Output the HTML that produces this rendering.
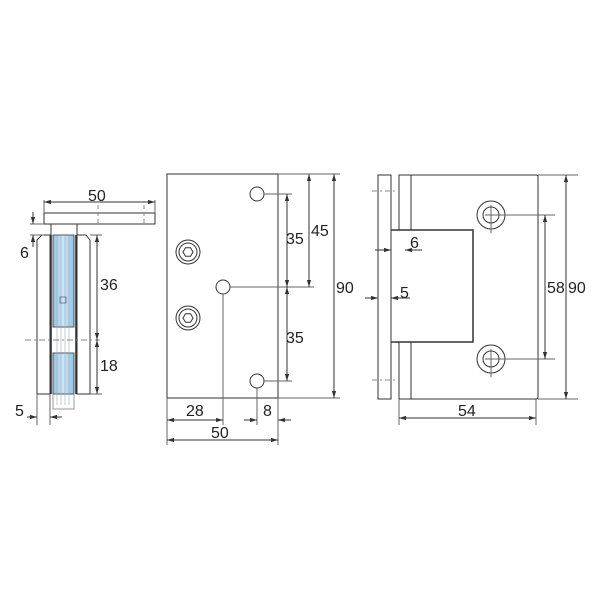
<!DOCTYPE html>
<html><head><meta charset="utf-8"><style>html,body{margin:0;padding:0;background:#fff}svg{display:block}text{font-family:"Liberation Sans",sans-serif;font-size:16px;fill:#222}</style></head>
<body>
<svg width="600" height="600" viewBox="0 0 600 600" xmlns="http://www.w3.org/2000/svg">
<defs>
<marker id="a" viewBox="0 0 10 10" refX="10" refY="5" markerWidth="7" markerHeight="7" orient="auto-start-reverse"><path d="M0,2 L10,5 L0,8 z" fill="#333"/></marker>
<linearGradient id="g" x1="0" x2="1"><stop offset="0" stop-color="#8fc3e6"/><stop offset="0.5" stop-color="#cfe6f5"/><stop offset="1" stop-color="#8fc3e6"/></linearGradient>
</defs>
<g fill="none" stroke="#333" stroke-width="1">
<!-- LEFT VIEW -->
<rect x="44" y="213" width="111" height="11" fill="#fff"/>
<line x1="51" y1="224" x2="51" y2="235"/><line x1="77" y1="224" x2="77" y2="235"/>
<path d="M37,394 V240 L42,235 H50 V394 Z" fill="#fff"/>
<path d="M77,394 V235 H86 L90,240 V394 Z" fill="#fff"/>
<rect x="53" y="235" width="21" height="92" fill="url(#g)" stroke="#555"/>
<rect x="53" y="353" width="21" height="41" fill="url(#g)" stroke="#555"/>
<path d="M53,394 V409 H74 V394" stroke="#999"/>
<g stroke="#9ab" stroke-width="0.6"><line x1="57" y1="236" x2="57" y2="405"/><line x1="61" y1="236" x2="61" y2="405"/><line x1="65" y1="236" x2="65" y2="405"/><line x1="69" y1="236" x2="69" y2="405"/></g>
<rect x="60" y="297" width="6" height="6" stroke="#557" stroke-width="0.7"/>
<line x1="51" y1="235" x2="51" y2="394" stroke-width="1.6"/><line x1="76" y1="235" x2="76" y2="394" stroke-width="1.6"/>
<line x1="25" y1="340" x2="100" y2="340" stroke="#888" stroke-dasharray="6,3,2,3"/>
<line x1="44" y1="200" x2="44" y2="213" stroke="#666"/><line x1="155" y1="200" x2="155" y2="213" stroke="#666"/>
<line x1="44" y1="202" x2="155" y2="202" marker-start="url(#a)" marker-end="url(#a)"/>
<line x1="98" y1="205" x2="98" y2="226" stroke="#888" stroke-dasharray="4,3"/><line x1="144" y1="205" x2="144" y2="226" stroke="#888" stroke-dasharray="4,3"/>
<line x1="30" y1="224" x2="44" y2="224" stroke="#666"/><line x1="30" y1="235" x2="44" y2="235" stroke="#666"/>
<line x1="33" y1="212" x2="33" y2="224" marker-end="url(#a)"/><line x1="33" y1="247" x2="33" y2="235" marker-end="url(#a)"/>
<line x1="90" y1="235" x2="102" y2="235" stroke="#666"/><line x1="90" y1="394" x2="102" y2="394" stroke="#666"/>
<line x1="97" y1="235" x2="97" y2="340" marker-start="url(#a)" marker-end="url(#a)"/>
<line x1="97" y1="340" x2="97" y2="394" marker-start="url(#a)" marker-end="url(#a)"/>
<line x1="37" y1="394" x2="37" y2="425" stroke="#666"/><line x1="50" y1="394" x2="50" y2="425" stroke="#666"/>
<line x1="27" y1="417" x2="37" y2="417" marker-end="url(#a)"/><line x1="62" y1="417" x2="50" y2="417" marker-end="url(#a)"/>
<!-- MIDDLE VIEW -->
<rect x="167" y="174" width="111" height="224" fill="#fff"/>
<circle cx="257" cy="194" r="7"/><circle cx="223" cy="287" r="7"/><circle cx="257" cy="381" r="7"/>
<circle cx="188" cy="252" r="12"/><circle cx="188" cy="252" r="9"/><path d="M183,252 L185.5,247.7 H190.5 L193,252 L190.5,256.3 H185.5 Z"/>
<circle cx="188" cy="318" r="12"/><circle cx="188" cy="318" r="9"/><path d="M183,318 L185.5,313.7 H190.5 L193,318 L190.5,322.3 H185.5 Z"/>
<g stroke="#666"><line x1="264" y1="194" x2="292" y2="194"/><line x1="230" y1="287" x2="314" y2="287"/><line x1="264" y1="381" x2="292" y2="381"/>
<line x1="278" y1="174" x2="340" y2="174"/><line x1="278" y1="398" x2="340" y2="398"/>
<line x1="167" y1="398" x2="167" y2="445"/><line x1="278" y1="398" x2="278" y2="445"/><line x1="223" y1="294" x2="223" y2="425"/><line x1="257" y1="388" x2="257" y2="425"/></g>
<line x1="287" y1="194" x2="287" y2="287" marker-start="url(#a)" marker-end="url(#a)"/>
<line x1="287" y1="287" x2="287" y2="381" marker-start="url(#a)" marker-end="url(#a)"/>
<line x1="309" y1="174" x2="309" y2="287" marker-start="url(#a)" marker-end="url(#a)"/>
<line x1="334" y1="174" x2="334" y2="398" marker-start="url(#a)" marker-end="url(#a)"/>
<line x1="167" y1="420" x2="223" y2="420" marker-start="url(#a)" marker-end="url(#a)"/>
<line x1="244" y1="420" x2="257" y2="420" marker-end="url(#a)"/><line x1="291" y1="420" x2="278" y2="420" marker-end="url(#a)"/>
<line x1="167" y1="440" x2="278" y2="440" marker-start="url(#a)" marker-end="url(#a)"/>
<!-- RIGHT VIEW -->
<rect x="378" y="175" width="13" height="224" fill="#fff"/>
<path d="M399,175 H536 Q538,175 538,177 V397 Q538,399 536,399 H399 V342 H473 V230 H399 Z" fill="#fff"/>
<line x1="411" y1="175" x2="411" y2="230"/><line x1="411" y1="342" x2="411" y2="399"/>
<path d="M391,230 H473 V342 H391" stroke-width="1.5"/>
<line x1="372" y1="191" x2="397" y2="191" stroke="#888" stroke-dasharray="5,3,2,3"/><line x1="372" y1="380" x2="397" y2="380" stroke="#888" stroke-dasharray="5,3,2,3"/>
<circle cx="491" cy="215" r="14"/><circle cx="491" cy="215" r="8"/>
<circle cx="491" cy="359" r="14"/><circle cx="491" cy="359" r="8"/>
<g stroke="#666"><line x1="485" y1="215" x2="555" y2="215"/><line x1="491" y1="205" x2="491" y2="233"/><line x1="485" y1="359" x2="555" y2="359"/><line x1="491" y1="349" x2="491" y2="377"/>
<line x1="538" y1="175" x2="578" y2="175"/><line x1="538" y1="399" x2="578" y2="399"/>
<line x1="399" y1="399" x2="399" y2="425"/><line x1="536" y1="399" x2="536" y2="425"/></g>
<line x1="545" y1="215" x2="545" y2="359" marker-start="url(#a)" marker-end="url(#a)"/>
<line x1="566" y1="175" x2="566" y2="399" marker-start="url(#a)" marker-end="url(#a)"/>
<line x1="399" y1="418" x2="536" y2="418" marker-start="url(#a)" marker-end="url(#a)"/>
<line x1="375" y1="250" x2="391" y2="250" marker-end="url(#a)"/><line x1="422" y1="250" x2="405" y2="250" marker-end="url(#a)"/>
<line x1="365" y1="298" x2="378" y2="298" marker-end="url(#a)"/><line x1="410" y1="298" x2="391" y2="298" marker-end="url(#a)"/>
</g>
<text x="88" y="201">50</text>
<text x="20" y="258">6</text>
<text x="100" y="290">36</text>
<text x="100" y="371">18</text>
<text x="15" y="416">5</text>
<text x="286" y="244">35</text>
<text x="311" y="236">45</text>
<text x="336" y="293">90</text>
<text x="286" y="343">35</text>
<text x="186" y="416">28</text>
<text x="263" y="416">8</text>
<text x="211" y="438">50</text>
<text x="410" y="248">6</text>
<text x="400" y="298">5</text>
<text x="547" y="293">58</text>
<text x="568" y="293">90</text>
<text x="458" y="416">54</text>
</svg>
</body></html>
